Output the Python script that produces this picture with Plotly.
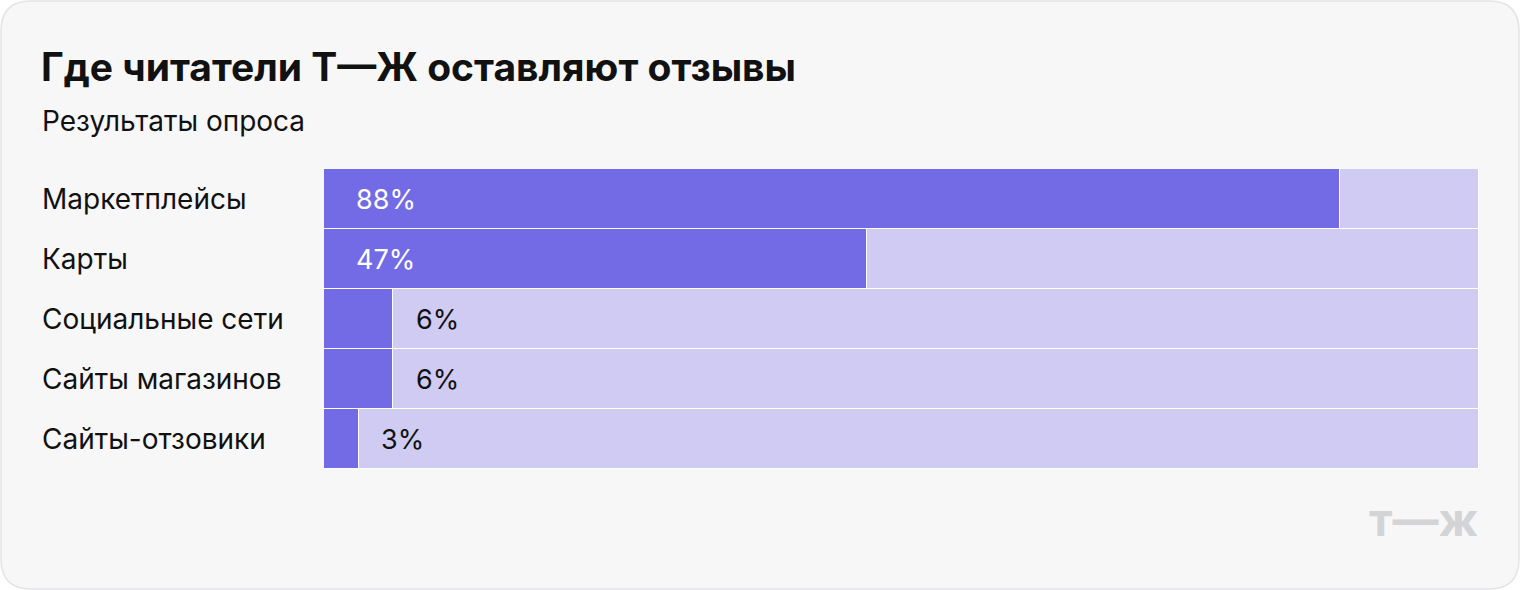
import plotly.graph_objects as go

categories = ["Маркетплейсы", "Карты", "Социальные сети", "Сайты магазинов", "Сайты-отзовики"]
values = [88, 47, 6, 6, 3]
labels = ["88%", "47%", "6%", "6%", "3%"]

W, H = 1520, 590
DARK = "#736be5"
LIGHT = "#cfcbf2"
FONT = "Inter"

rest = [100 - v for v in values]

fig = go.Figure()
fig.add_trace(go.Bar(y=categories, x=values, orientation="h", marker=dict(color=DARK, line=dict(color="white", width=1)), hoverinfo="skip"))
fig.add_trace(go.Bar(y=categories, x=rest, orientation="h", marker=dict(color=LIGHT, line=dict(color="white", width=1)), hoverinfo="skip"))

# percentage labels: inside (white) for big bars, after the bar (black) for small ones
for cat, v, lab in zip(categories, values, labels):
    inside = v > 20
    fig.add_annotation(x=2.6 if inside else v + 1.8, y=cat, xref="x", yref="y", text=lab,
                       showarrow=False, xanchor="left", yanchor="middle",
                       font=dict(family=FONT, size=27, color="white" if inside else "#111"))

# row labels on the left
for cat in categories:
    fig.add_annotation(x=40 / W, y=cat, xref="paper", yref="y", text=cat, showarrow=False,
                       xanchor="left", yanchor="middle", font=dict(family=FONT, size=28, color="#111"))

fig.add_annotation(x=39 / W, y=1 - 67 / H, xref="paper", yref="paper", text="<b>Где читатели Т—Ж оставляют отзывы</b>",
                   showarrow=False, xanchor="left", yanchor="middle", font=dict(family=FONT, size=39, color="#111"))
fig.add_annotation(x=40 / W, y=1 - 121 / H, xref="paper", yref="paper", text="Результаты опроса",
                   showarrow=False, xanchor="left", yanchor="middle", font=dict(family=FONT, size=28, color="#111"))
fig.add_annotation(x=1480 / W, y=1 - 519 / H, xref="paper", yref="paper", text="<b>т—ж</b>",
                   showarrow=False, xanchor="right", yanchor="middle", font=dict(family=FONT, size=46, color="#d4d4d6"))

# card background
x0, y0, x1, y1, r = 1 / W, 1 - 1 / H, 1 - 1 / W, 1 / H, 30
rx, ry = r / W, r / H
path = (f"M {x0+rx} {y0} L {x1-rx} {y0} Q {x1} {y0} {x1} {y0-ry} L {x1} {y1+ry} Q {x1} {y1} {x1-rx} {y1} "
        f"L {x0+rx} {y1} Q {x0} {y1} {x0} {y1+ry} L {x0} {y0-ry} Q {x0} {y0} {x0+rx} {y0} Z")
fig.add_shape(type="path", path=path, xref="paper", yref="paper", fillcolor="#f7f7f8",
              line=dict(color="#e4e4e6", width=1.5), layer="below")

fig.update_layout(
    width=W, height=H, margin=dict(l=0, r=0, t=0, b=0),
    paper_bgcolor="white", plot_bgcolor="rgba(0,0,0,0)",
    barmode="stack", bargap=0, showlegend=False,
    xaxis=dict(domain=[324 / W, 1479 / W], range=[0, 100], visible=False, fixedrange=True),
    yaxis=dict(domain=[1 - 469 / H, 1 - 169 / H], autorange="reversed", visible=False, fixedrange=True),
)

fig.write_html("out.html", config={"displayModeBar": False},
               post_script="document.body.style.margin='0';document.body.style.overflow='hidden';")
